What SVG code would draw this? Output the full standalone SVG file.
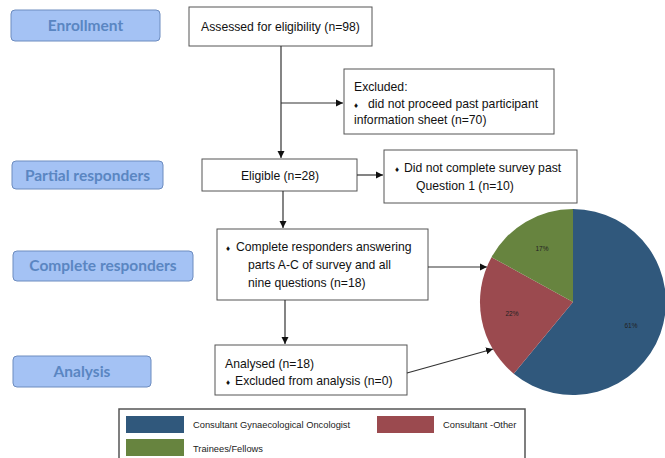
<svg xmlns="http://www.w3.org/2000/svg" width="665" height="458" viewBox="0 0 665 458">
<defs>
<marker id="arr" markerWidth="8" markerHeight="8" refX="7" refY="4" orient="auto" markerUnits="userSpaceOnUse">
<path d="M0,0.5 L7,4 L0,7.5 Z" fill="#111"/>
</marker>
<style>
.lab rect{fill:#a4c2f4;stroke:#6d8cbf;stroke-width:1}
.lab text{font-family:Lato,"Open Sans",sans-serif;font-weight:bold;font-size:15.5px;fill:#5a86c2;text-anchor:middle}
.box rect{fill:#fff;stroke:#555;stroke-width:1}
.box text{font-family:"Liberation Sans",Arial,sans-serif;font-size:12.2px;fill:#111}
.bul{font-size:8px}
.conn line{stroke:#333;stroke-width:1.2;fill:none}
.pct{font-family:"Liberation Sans",Arial,sans-serif;font-size:6.5px;fill:#222;text-anchor:middle}
.leg{font-family:"Liberation Sans",Arial,sans-serif;font-size:9.3px;fill:#222}
</style>
</defs>
<rect width="665" height="458" fill="#fff"/>

<g id="label-enrollment" class="lab"><rect x="11" y="10" width="149" height="31" rx="4"/><text x="85.5" y="30.5">Enrollment</text></g>
<g id="label-partial" class="lab"><rect x="12" y="161" width="151" height="28" rx="4"/><text x="87.5" y="180.5">Partial responders</text></g>
<g id="label-complete" class="lab"><rect x="13" y="251" width="180" height="30" rx="4"/><text x="103" y="271">Complete responders</text></g>
<g id="label-analysis" class="lab"><rect x="13" y="356" width="138" height="31" rx="4"/><text x="82" y="377">Analysis</text></g>

<g id="box-assessed" class="box"><rect x="189" y="7" width="183" height="39"/><text x="280.5" y="31" text-anchor="middle">Assessed for eligibility (n=98)</text></g>
<g id="box-excluded" class="box"><rect x="344" y="69" width="210" height="65"/>
<text x="354" y="91">Excluded:</text>
<text y="107.5"><tspan class="bul" x="354">♦</tspan><tspan x="368">did not proceed past participant</tspan></text>
<text x="354" y="124">information sheet (n=70)</text></g>
<g id="box-eligible" class="box"><rect x="202" y="159" width="155" height="32"/><text x="280" y="180" text-anchor="middle">Eligible (n=28)</text></g>
<g id="box-notcomplete" class="box"><rect x="384" y="150" width="193" height="53"/>
<text y="172"><tspan class="bul" x="395">♦</tspan><tspan x="404">Did not complete survey past</tspan></text>
<text x="416" y="190">Question 1 (n=10)</text></g>
<g id="box-complete" class="box"><rect x="217" y="229" width="211" height="71"/>
<text y="251"><tspan class="bul" x="226">♦</tspan><tspan x="236">Complete responders answering</tspan></text>
<text x="248" y="269">parts A-C of survey and all</text>
<text x="248" y="287">nine questions (n=18)</text></g>
<g id="box-analysed" class="box"><rect x="215" y="345" width="192" height="50"/>
<text x="225" y="368">Analysed (n=18)</text>
<text y="385"><tspan class="bul" x="226">♦</tspan><tspan x="235">Excluded from analysis (n=0)</tspan></text></g>

<g id="connectors" class="conn">
<line x1="281" y1="46" x2="281" y2="158" marker-end="url(#arr)"/>
<line x1="281" y1="103" x2="343" y2="103" marker-end="url(#arr)"/>
<line x1="357" y1="175" x2="383" y2="175" marker-end="url(#arr)"/>
<line x1="283" y1="191" x2="283" y2="228" marker-end="url(#arr)"/>
<line x1="428" y1="267" x2="487" y2="267" marker-end="url(#arr)"/>
<line x1="285" y1="300" x2="285" y2="344" marker-end="url(#arr)"/>
<line x1="407" y1="373" x2="493" y2="349" marker-end="url(#arr)"/>
</g>

<g id="pie">
<path d="M573,302 L573,209 A93,93 0 1,1 513.7,373.7 Z" fill="#30587c"/>
<path d="M573,302 L513.7,373.7 A93,93 0 0,1 491.5,257.2 Z" fill="#9b4a4f"/>
<path d="M573,302 L491.5,257.2 A93,93 0 0,1 573,209 Z" fill="#67843f"/>
<text class="pct" x="542" y="251">17%</text>
<text class="pct" x="512" y="316">22%</text>
<text class="pct" x="631" y="328">61%</text>
</g>

<g id="legend">
<rect x="119" y="409" width="406" height="60" fill="#fff" stroke="#555" stroke-width="1.5"/>
<rect x="126" y="416" width="58" height="17" fill="#30587c"/>
<text class="leg" x="193" y="428">Consultant Gynaecological Oncologist</text>
<rect x="377" y="416" width="57" height="17" fill="#9b4a4f"/>
<text class="leg" x="443" y="428">Consultant -Other</text>
<rect x="126" y="439" width="58" height="17" fill="#67843f"/>
<text class="leg" x="193" y="452">Trainees/Fellows</text>
</g>
</svg>
